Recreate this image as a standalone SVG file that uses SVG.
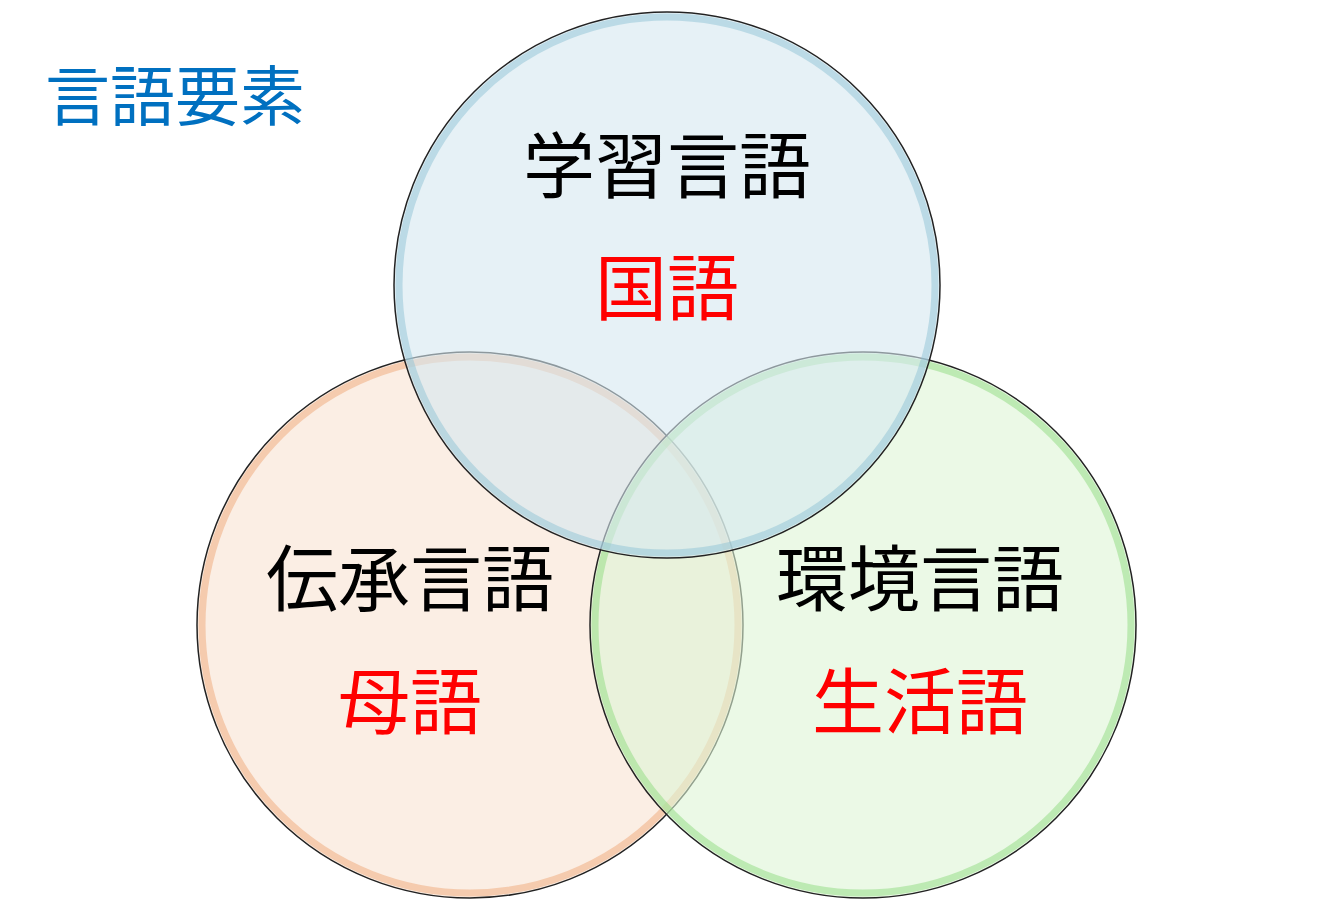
<svg xmlns="http://www.w3.org/2000/svg" width="1322" height="910" viewBox="0 0 1322 910">
<style>
.t{font-family:"Noto Sans CJK JP","Noto Sans CJK SC",sans-serif;text-anchor:middle;font-size:72px}
.k{fill:#000}.r{fill:#ff0000}
.o{fill-opacity:0.6;stroke:#222;stroke-width:1.5}
.g{fill:none;stroke-width:7;stroke-opacity:0.5}
</style>
<rect width="1322" height="910" fill="#fff"/>
<text x="45" y="120" style="font-family:'Noto Sans CJK JP',sans-serif;font-size:65px" fill="#0070c0">言語要素</text>
<g id="left">
<circle cx="470" cy="625" r="273" class="o" fill="#f8e2d2"/>
<circle cx="470" cy="625" r="268" class="g" stroke="#f0a878"/>
</g>
<g id="right">
<circle cx="863" cy="625" r="273" class="o" fill="#ddf5d5"/>
<circle cx="863" cy="625" r="268" class="g" stroke="#8fdc80"/>
</g>
<g id="top">
<circle cx="667" cy="285" r="273" class="o" fill="#d5e8f0"/>
<circle cx="667" cy="285" r="268" class="g" stroke="#8fc3d6"/>
</g>
<g id="labels">
<text x="667" y="192" class="t k">学習言語</text>
<text x="667" y="314" class="t r">国語</text>
<text x="410" y="605" class="t k">伝承言語</text>
<text x="410" y="728" class="t r">母語</text>
<text x="920" y="605" class="t k">環境言語</text>
<text x="920" y="728" class="t r">生活語</text>
</g>
<g id="connectors"/>
</svg>
